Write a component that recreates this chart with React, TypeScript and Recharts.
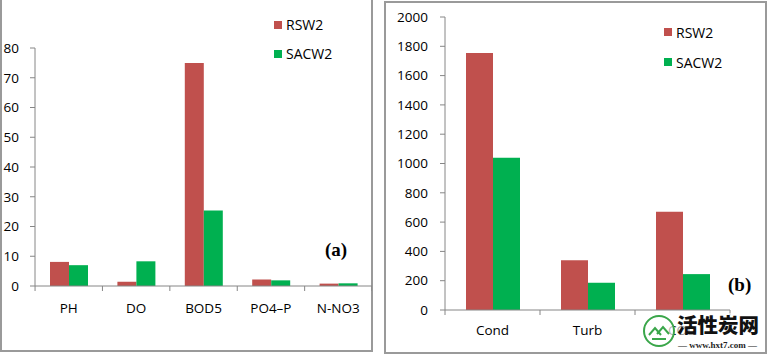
import React from 'react';
import { BarChart, Bar, XAxis, YAxis, Legend } from 'recharts';

const categoriesA = ['PH', 'DO', 'BOD5', 'PO4–P', 'N-NO3'];
const rsw2A = [8.1, 1.4, 75, 2.2, 0.8];
const sacw2A = [7.0, 8.3, 25.4, 1.9, 0.9];
const ticksA = [0, 10, 20, 30, 40, 50, 60, 70, 80];

const categoriesB = ['Cond', 'Turb', 'COD'];
const rsw2B = [1755, 340, 670];
const sacw2B = [1039, 186, 245];
const ticksB = [0, 200, 400, 600, 800, 1000, 1200, 1400, 1600, 1800, 2000];

const seriesNames = ['RSW2', 'SACW2'];
const RED = '#C0504D';
const GREEN = '#00B050';
const AXIS = '#868686';
const FONT = '"Open Sans", "Liberation Sans", sans-serif';

const dataA = categoriesA.map((c, i) => ({ name: c, RSW2: rsw2A[i], SACW2: sacw2A[i] }));
const dataB = categoriesB.map((c, i) => ({ name: c, RSW2: rsw2B[i], SACW2: sacw2B[i] }));

const makeTick = (bandW: number, labelDy: number, n: number) => (props: any) => {
  const { x, y, payload, index } = props;
  return (
    <g>
      <line x1={x - bandW / 2} x2={x - bandW / 2} y1={y} y2={y + 5} stroke={AXIS} />
      {index === n - 1 && <line x1={x + bandW / 2} x2={x + bandW / 2} y1={y} y2={y + 5} stroke={AXIS} />}
      <text x={x} y={y + labelDy} textAnchor="middle" dominantBaseline="central" fontSize={13.5} fontFamily={FONT} fill="#000">
        {payload.value}
      </text>
    </g>
  );
};

const legendContent = (rowH: number) => (props: any) => {
  const { payload } = props;
  return (
    <div style={{ fontFamily: FONT, fontSize: 14, color: '#000' }}>
      {(payload || []).map((p: any) => (
        <div key={p.value} style={{ display: 'flex', alignItems: 'center', height: rowH }}>
          <span style={{ display: 'inline-block', width: 8, height: 8, background: p.color, marginRight: 4 }} />
          <span>{p.value}</span>
        </div>
      ))}
    </div>
  );
};

export default function App() {
  return (
    <div style={{ position: 'absolute', left: 0, top: 0, width: 767, height: 354, background: '#fff', overflow: 'hidden' }}>
      {/* panel borders */}
      <div style={{ position: 'absolute', left: 0, top: -2, width: 369, height: 352, borderLeft: '2px solid #9a9a9a', borderRight: '2px solid #9a9a9a', borderBottom: '2px solid #9a9a9a' }} />
      <div style={{ position: 'absolute', left: 384, top: 1, width: 379, height: 349, border: '2px solid #9a9a9a' }} />

      <div style={{ position: 'absolute', left: 0, top: 0 }}>
        <BarChart width={372} height={354} data={dataA} margin={{ top: 48, right: 0, bottom: 38, left: 0 }} barGap={0} barSize={19}>
          <XAxis dataKey="name" interval={0} height={30} tickSize={0} tickMargin={0} tickLine={false} axisLine={{ stroke: AXIS }} tick={makeTick(67.3, 22, categoriesA.length)} />
          <YAxis domain={[0, 80]} ticks={ticksA} width={35} tickSize={5} tickMargin={11} axisLine={{ stroke: AXIS }} tickLine={{ stroke: AXIS }} tick={{ fill: '#000', fontSize: 13.5, fontFamily: FONT }} />
          <Legend layout="horizontal" verticalAlign="middle" align="center" content={legendContent(29)} wrapperStyle={{ position: 'absolute', left: 274, top: 10, width: 80 }} />
          <Bar dataKey="RSW2" name={seriesNames[0]} fill={RED} isAnimationActive={false} />
          <Bar dataKey="SACW2" name={seriesNames[1]} fill={GREEN} isAnimationActive={false} />
        </BarChart>
      </div>
      <div style={{ position: 'absolute', left: 325, top: 238, fontFamily: '"Liberation Serif", serif', fontWeight: 'bold', fontSize: 19, lineHeight: '24px' }}>(a)</div>

      <div style={{ position: 'absolute', left: 385, top: 0 }}>
        <BarChart width={382} height={354} data={dataB} margin={{ top: 17, right: 37, bottom: 14, left: 0 }} barGap={0} barSize={27}>
          <XAxis dataKey="name" interval={0} height={30} tickSize={0} tickMargin={0} tickLine={false} axisLine={{ stroke: AXIS }} tick={makeTick(95, 20, categoriesB.length)} />
          <YAxis domain={[0, 2000]} ticks={ticksB} width={60} tickSize={5} tickMargin={12} axisLine={{ stroke: AXIS }} tickLine={{ stroke: AXIS }} tick={{ fill: '#000', fontSize: 13.5, fontFamily: FONT }} />
          <Legend layout="horizontal" verticalAlign="middle" align="center" content={legendContent(30)} wrapperStyle={{ position: 'absolute', left: 279, top: 17, width: 80 }} />
          <Bar dataKey="RSW2" name={seriesNames[0]} fill={RED} isAnimationActive={false} />
          <Bar dataKey="SACW2" name={seriesNames[1]} fill={GREEN} isAnimationActive={false} />
        </BarChart>
      </div>
      <div style={{ position: 'absolute', left: 728, top: 273, fontFamily: '"Liberation Serif", serif', fontWeight: 'bold', fontSize: 19, lineHeight: '24px' }}>(b)</div>

      {/* watermark */}
      <svg style={{ position: 'absolute', left: 641, top: 313 }} width={36} height={36}>
        <circle cx={18} cy={18} r={15} fill="rgba(255,255,255,0.7)" stroke="#3aa64a" strokeWidth={2} />
        <path d="M8 22 L14 15 L20 22 M16 21 L22 14 L28 21" stroke="#3aa64a" strokeWidth={2} fill="none" />
        <path d="M11 26 L25 26" stroke="#3aa64a" strokeWidth={2} />
      </svg>
      <div style={{ position: 'absolute', left: 677, top: 313, fontFamily: '"Noto Sans CJK SC", sans-serif', fontWeight: 900, fontSize: 20.5, lineHeight: '22px', color: '#111', background: 'rgba(255,255,255,0.6)' }}>活性炭网</div>
      <div style={{ position: 'absolute', left: 678, top: 340, fontFamily: '"Liberation Serif", serif', fontWeight: 'bold', fontSize: 9, lineHeight: '10px', color: '#222', whiteSpace: 'nowrap' }}>— www.hxt7.com —</div>
    </div>
  );
}
